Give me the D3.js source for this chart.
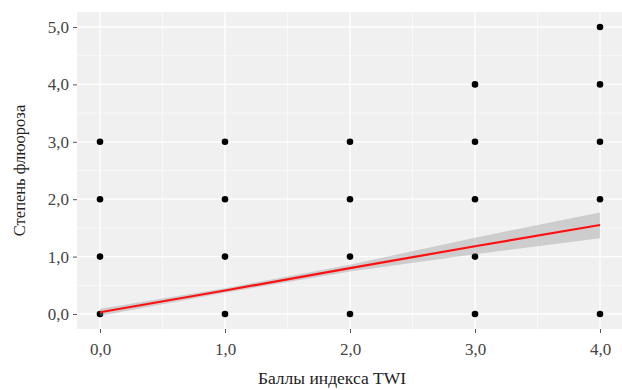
<!DOCTYPE html>
<html>
<head>
<meta charset="utf-8">
<script src="https://cdn.jsdelivr.net/npm/d3@7"></script>
<style>
  body { margin: 0; background: #fff; }
  svg { display: block; font-family: "Liberation Serif", "DejaVu Serif", serif; }
</style>
</head>
<body>
<svg width="622" height="390"></svg>
<script>
// observed points (TWI score, fluorosis degree)
const pointX = [0, 0, 0, 0, 1, 1, 1, 1, 2, 2, 2, 2, 3, 3, 3, 3, 3, 4, 4, 4, 4, 4];
const pointY = [0, 1, 2, 3, 0, 1, 2, 3, 0, 1, 2, 3, 0, 1, 2, 3, 4, 0, 2, 3, 4, 5];

// linear fit with confidence band
const fitX = [0, 1, 2, 3, 4];
const fitY = [0.03, 0.41, 0.80, 1.18, 1.55];
const bandLow = [-0.03, 0.37, 0.74, 1.04, 1.32];
const bandHigh = [0.09, 0.45, 0.86, 1.33, 1.77];

const xTicks = [0, 1, 2, 3, 4];
const yTicks = [0, 1, 2, 3, 4, 5];
const xTitle = 'Баллы индекса TWI';
const yTitle = 'Степень флюороза';

const panel = {left: 77, right: 622, top: 12, bottom: 329};

const svg = d3.select('svg');

const x = d3.scaleLinear().domain([0, 4]).range([100, 600]);
const y = d3.scaleLinear().domain([0, 5]).range([314, 27]);
const fmt = d => d3.format('.1f')(d).replace('.', ',');

// panel background
svg.append('rect')
  .attr('x', panel.left)
  .attr('y', panel.top)
  .attr('width', panel.right - panel.left)
  .attr('height', panel.bottom - panel.top)
  .attr('fill', '#f0f0f0');

// grid lines, minor then major
const grid = svg.append('g');
const minorX = d3.range(-0.5, 4.6, 1);
const minorY = d3.range(0.5, 5, 1);
grid.selectAll('.minor-x').data(minorX).enter().append('line')
  .attr('x1', d => x(d)).attr('x2', d => x(d))
  .attr('y1', panel.top).attr('y2', panel.bottom)
  .attr('stroke', '#fff').attr('stroke-width', 0.6);
grid.selectAll('.minor-y').data(minorY).enter().append('line')
  .attr('x1', panel.left).attr('x2', panel.right)
  .attr('y1', d => y(d)).attr('y2', d => y(d))
  .attr('stroke', '#fff').attr('stroke-width', 0.6);
grid.selectAll('.major-x').data(xTicks).enter().append('line')
  .attr('x1', d => x(d)).attr('x2', d => x(d))
  .attr('y1', panel.top).attr('y2', panel.bottom)
  .attr('stroke', '#fff').attr('stroke-width', 1.3);
grid.selectAll('.major-y').data(yTicks).enter().append('line')
  .attr('x1', panel.left).attr('x2', panel.right)
  .attr('y1', d => y(d)).attr('y2', d => y(d))
  .attr('stroke', '#fff').attr('stroke-width', 1.3);

// points
svg.append('g')
  .selectAll('circle')
  .data(pointX.map((d, i) => [d, pointY[i]]))
  .enter()
  .append('circle')
  .attr('cx', d => x(d[0]))
  .attr('cy', d => y(d[1]))
  .attr('r', 3.3)
  .attr('fill', '#000');

// confidence band + fitted line
const band = fitX.map((d, i) => ({x: d, lo: bandLow[i], hi: bandHigh[i], fit: fitY[i]}));
svg.append('path')
  .datum(band)
  .attr('d', d3.area().x(d => x(d.x)).y0(d => y(d.lo)).y1(d => y(d.hi)))
  .attr('fill', '#999')
  .attr('fill-opacity', 0.4);
svg.append('path')
  .datum(band)
  .attr('d', d3.line().x(d => x(d.x)).y(d => y(d.fit)))
  .attr('fill', 'none')
  .attr('stroke', '#ff1010')
  .attr('stroke-width', 2.2);

// axes
const xAxis = svg.append('g')
  .attr('transform', 'translate(0,' + panel.bottom + ')')
  .call(d3.axisBottom(x).tickValues(xTicks).tickFormat(fmt).tickSize(4).tickPadding(10));
const yAxis = svg.append('g')
  .attr('transform', 'translate(' + panel.left + ',0)')
  .call(d3.axisLeft(y).tickValues(yTicks).tickFormat(fmt).tickSize(4).tickPadding(4));
[xAxis, yAxis].forEach(a => {
  a.select('.domain').remove();
  a.selectAll('line').attr('stroke', '#555').attr('stroke-width', 1);
  a.selectAll('text')
    .attr('fill', '#444')
    .style('font-family', '"Liberation Serif", serif')
    .style('font-size', '17px');
});

// titles
svg.append('text')
  .attr('x', 332)
  .attr('y', 384)
  .attr('text-anchor', 'middle')
  .style('font-size', '17.5px')
  .attr('fill', '#222')
  .text(xTitle);
svg.append('text')
  .attr('transform', 'translate(25,' + (panel.top + panel.bottom) / 2 + ') rotate(-90)')
  .attr('text-anchor', 'middle')
  .style('font-size', '16.5px')
  .attr('fill', '#222')
  .text(yTitle);
</script>
</body>
</html>
